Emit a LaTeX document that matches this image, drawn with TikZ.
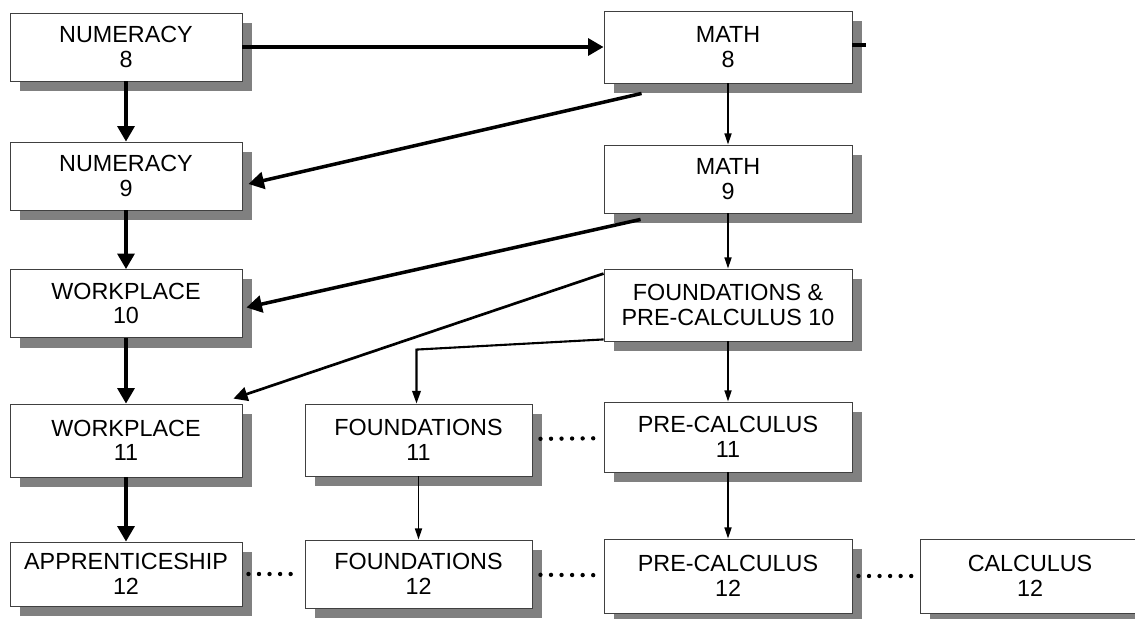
\documentclass[tikz,border=0pt]{standalone}
\usepackage{fontspec}
\setmainfont{Liberation Sans}
\usetikzlibrary{arrows.meta, shadows, calc}
\tikzstyle{course} = [rectangle, draw=black!75, line width=0.6pt, fill=white, inner sep=0pt, font=\fontsize{16.6}{17.5}\selectfont, drop shadow={shadow xshift=0.25cm, shadow yshift=-0.25cm, fill=black!50, opacity=1}]
\tikzstyle{leftcol} = [course, minimum width=5.8cm, minimum height=1.7cm]
\tikzstyle{midcol} = [course, minimum width=5.675cm, minimum height=1.8cm]
\tikzstyle{rightcol} = [course, minimum width=6.2cm, minimum height=1.75cm]
\tikzstyle{bigarrow} = [line width=2.5pt, -{Triangle[length=11pt, width=12pt]}]
\tikzstyle{midarrow} = [line width=1.9pt, -{Triangle[length=10pt, width=10pt]}]
\tikzstyle{smallarrow} = [line width=1.1pt, -{Triangle[length=8pt, width=5pt]}]
\tikzstyle{dotline} = [line width=3.1pt, line cap=round, dash pattern=on 0pt off 7.5pt]
\tikzset{every node/.style={align=center}}

\begin{document}
\begin{tikzpicture}[x=0.025cm, y=-0.025cm]
    \useasboundingbox (0,0) rectangle (1135,618);

    % left column
    \node (num8)  [leftcol] at (126,47)    {NUMERACY\\8};
    \node (num9)  [leftcol] at (126,176)   {NUMERACY\\9};
    \node (work10)[leftcol] at (126,303.5) {WORKPLACE\\10};
    \node (work11)[leftcol, minimum height=1.825cm] at (126,440.5) {WORKPLACE\\11};
    \node (app12) [leftcol, minimum height=1.6cm]   at (126,574)   {APPRENTICESHIP\\12};

    % middle column
    \node (found11)[midcol] at (418.5,440) {FOUNDATIONS\\11};
    \node (found12)[midcol, minimum height=1.7cm] at (418.5,574) {FOUNDATIONS\\12};

    % right column
    \node (math8) [rightcol, minimum height=1.8cm] at (728,47)  {MATH\\8};
    \node (math9) [rightcol, minimum height=1.7cm] at (728,179) {MATH\\9};
    \node (fpc10) [rightcol, minimum height=1.8cm] at (728,305) {FOUNDATIONS \&\\PRE-CALCULUS 10};
    \node (pc11)  [rightcol] at (728,437) {PRE-CALCULUS\\11};
    \node (pc12)  [rightcol, minimum height=1.85cm] at (728,576) {PRE-CALCULUS\\12};
    \node (calc12)[course, minimum width=5.5cm, minimum height=1.85cm] at (1030,576) {CALCULUS\\12};

    % straight arrows
    \draw [bigarrow] (num8)   -- (math8);
    \draw [bigarrow] (num8)   -- (num9);
    \draw [bigarrow] (num9)   -- (work10);
    \draw [bigarrow] (work10) -- (work11);
    \draw [bigarrow] (work11) -- (app12);
    \draw [smallarrow] (math8)   -- (math9);
    \draw [smallarrow] (math9)   -- (fpc10);
    \draw [smallarrow] (fpc10)   -- (pc11);
    \draw [smallarrow] (pc11)    -- (pc12);
    \draw [smallarrow] (found11) -- (found12);

    % slanted arrows
    \draw [bigarrow] ($(math8.south west)+(38,10)$) -- ($(num9.east)+(6,8)$);
    \draw [bigarrow] ($(math9.south west)+(37,6)$) -- ($(work10.east)+(4,4)$);
    \draw [midarrow] ($(fpc10.north west)+(0,5)$) -- ($(work11.north east)+(-9,-5)$);
    \coordinate (bend) at ($(found11.north)+(-2,-54)$);
    \draw [line width=1.5pt, -{Triangle[length=9pt, width=6pt]}] ($(fpc10.south west)+(0,-2)$) -- (bend) -- (bend |- found11.north);

    % stub on the right of MATH 8
    \coordinate (stub) at ($(math8.east)+(14,-2)$);
    \draw [line width=2.5pt] (math8.east |- stub) -- (stub);

    % dotted links
    \draw [dotline, shorten <=0.2cm, shorten >=0.25cm] (found11) -- (pc11);
    \draw [dotline, shorten <=0.15cm, shorten >=0.15cm] (app12)   -- (found12);
    \draw [dotline, shorten <=0.2cm, shorten >=0.2cm]  (found12) -- (pc12);
    \draw [dotline, shorten <=0.15cm, shorten >=0.18cm] (pc12)   -- (calc12);
\end{tikzpicture}
\end{document}
